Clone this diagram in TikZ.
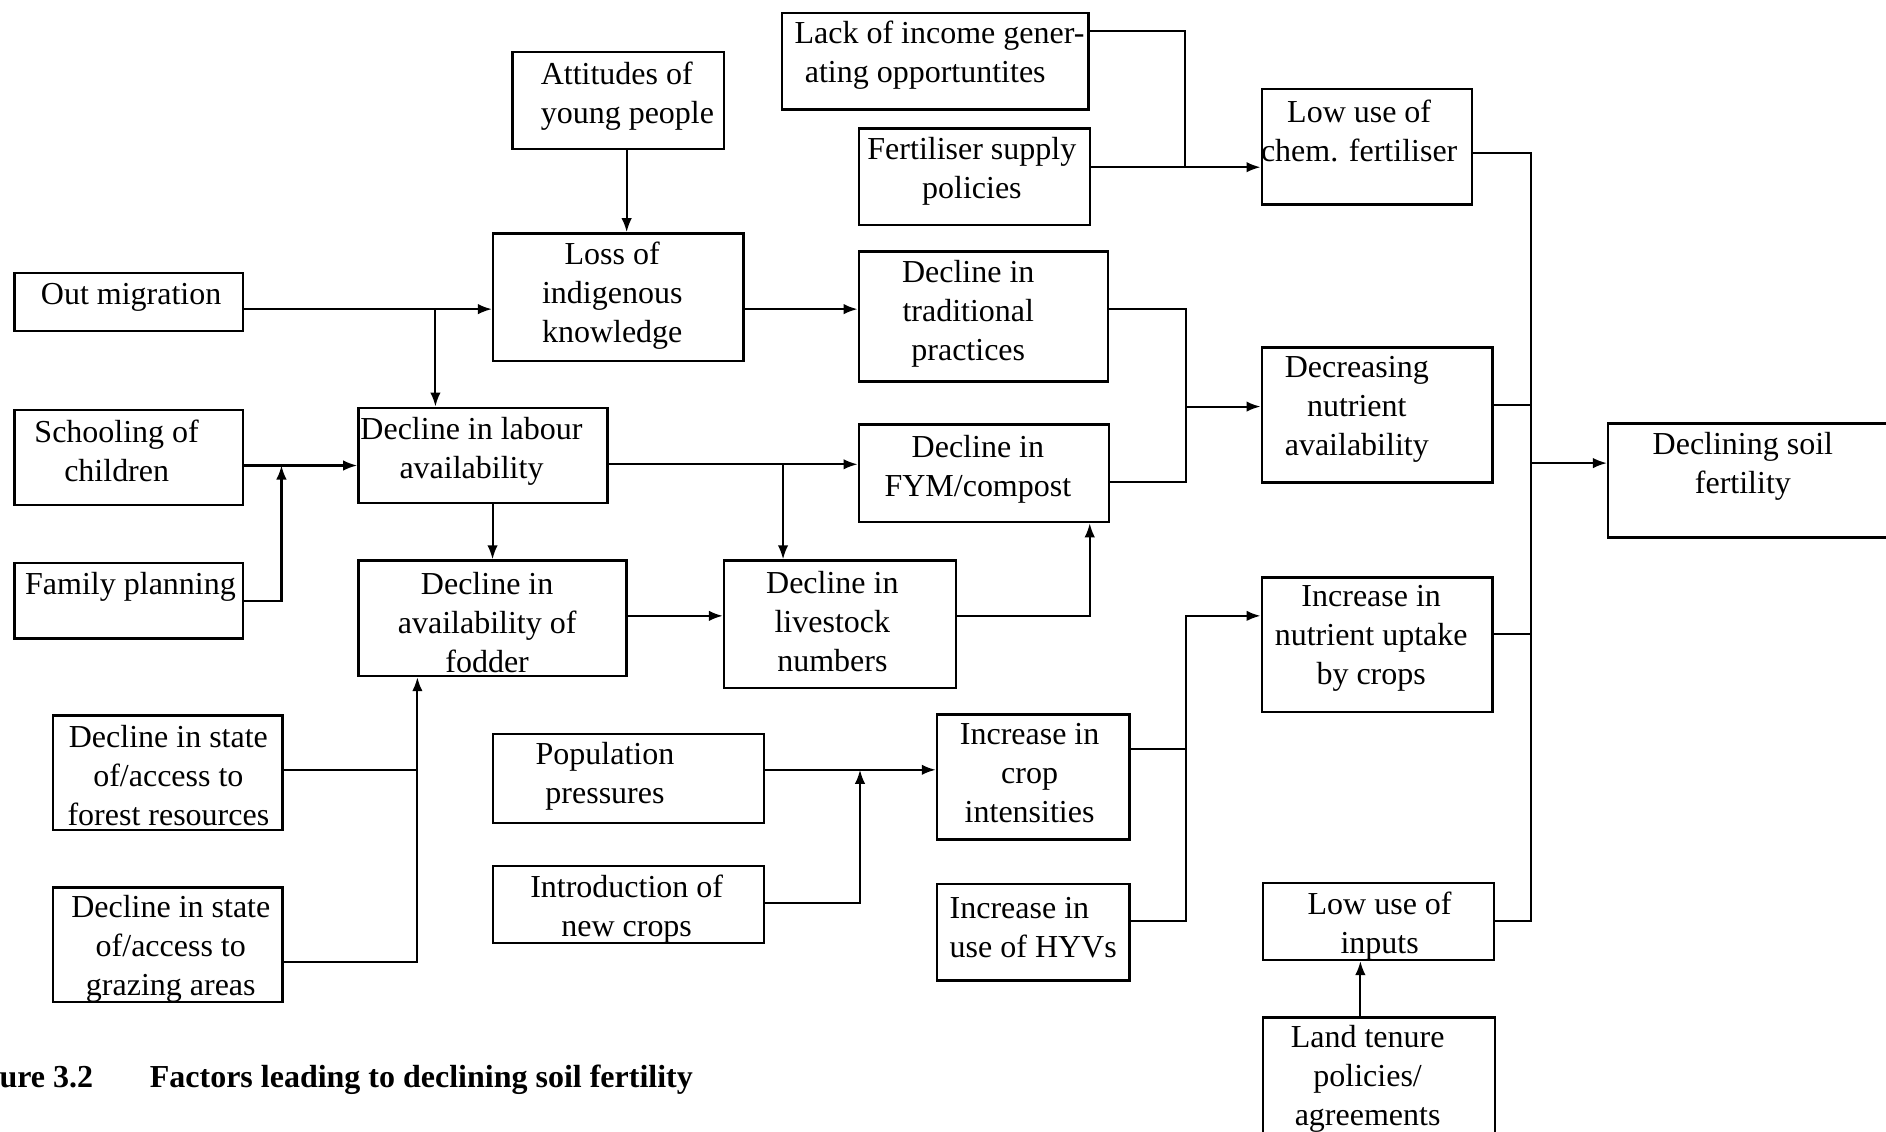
\documentclass[tikz,border=0pt]{standalone}
\usepackage{fontspec}
\setmainfont{Liberation Serif}
\usetikzlibrary{arrows.meta}

% one drawing unit
\newdimen\pxu \pxu=0.012028cm

% box from its corners: name, x1, y1, x2, y2
\newcommand\mkbox[5]{%
  \node[factor, minimum width={(#4-#2)*\pxu}, minimum height={(#5-#3)*\pxu}]
    (#1) at ({(#2+#4)/2},{(#3+#5)/2}) {};}

\tikzset{
  factor/.style={draw, line width=0.7pt, inner sep=0pt, rectangle},
  txt/.style={inner sep=0pt, yshift=-0.025cm, font=\fontsize{9.1}{11.1}\selectfont, align=center},
  lefttxt/.style={txt, align=left, anchor=west},
  caption/.style={inner sep=0pt, font=\fontsize{9.1}{11.1}\selectfont\bfseries},
  link/.style={line width=0.6pt},
  arr/.style={link, -{Latex[length=1.4mm,width=1.05mm]}}
}

\begin{document}
\begin{tikzpicture}[x=0.012028cm, y=-0.012028cm]
\useasboundingbox (0,0) rectangle (1568,941);
\clip (0,0) rectangle (1568,941);

% ---- boxes ----
\mkbox{att}{426}{43}{602}{124}
\mkbox{lack}{650}{11}{905}{91}
\mkbox{fert}{714}{107}{906}{187}
\mkbox{chem}{1049}{74}{1224}{170}
\mkbox{out}{12}{227}{202}{275}
\mkbox{loss}{410}{194}{618}{300}
\mkbox{trad}{714}{209}{921}{317}
\mkbox{decr}{1049}{289}{1241}{401}
\mkbox{school}{12}{341}{202}{420}
\mkbox{labour}{298}{339}{505}{418}
\mkbox{fym}{714}{353}{922}{434}
\mkbox{soil}{1337}{352}{1590}{447}
\mkbox{family}{12}{468}{202}{531}
\mkbox{fodder}{298}{466}{521}{562}
\mkbox{livestock}{602}{466}{795}{572}
\mkbox{uptake}{1049}{480}{1241}{592}
\mkbox{forest}{44}{595}{235}{690}
\mkbox{pop}{410}{610}{635}{684}
\mkbox{crop}{779}{594}{939}{698}
\mkbox{grazing}{44}{738}{235}{833}
\mkbox{intro}{410}{720}{635}{784}
\mkbox{hyv}{779}{735}{939}{815}
\mkbox{inputs}{1050}{734}{1242}{798}
\mkbox{land}{1050}{846}{1243}{960}

% ---- texts ----
\node[lefttxt] (att-t) at (449,77.5) {Attitudes of\\young people};
\node[lefttxt] (lack-t) at (660,44) {Lack of income gener-\\\hspace{0.7ex}ating opportuntites};
\node[txt] (fert-t) at (808,140.5) {Fertiliser supply\\policies};
\node[txt] (chem-t) at (1130,107) {Low use of\\chem. fertiliser};
\node[txt] (out-t) at (109,245) {Out migration};
\node[txt] (loss-t) at (509,243.5) {Loss of\\indigenous\\knowledge};
\node[txt] (trad-t) at (805,258.5) {Decline in\\traditional\\practices};
\node[txt] (decr-t) at (1128,338.5) {Decreasing\\nutrient\\availability};
\node[txt] (school-t) at (97,373) {Schooling of\\children};
\node[txt] (labour-t) at (392,373) {Decline in labour\\availability};
\node[txt] (fym-t) at (813,388) {Decline in\\FYM/compost};
\node[txt] (soil-t) at (1449,386) {Declining soil\\fertility};
\node[txt] (family-t) at (108.5,486) {Family planning};
\node[txt] (fodder-t) at (405,515.5) {Decline in\\availability of\\fodder};
\node[txt] (livestock-t) at (692,515) {Decline in\\livestock\\numbers};
\node[txt] (uptake-t) at (1140,529) {Increase in\\nutrient uptake\\by crops};
\node[txt] (forest-t) at (140,643) {Decline in state\\of/access to\\forest resources};
\node[txt] (pop-t) at (503,643) {Population\\pressures};
\node[txt] (crop-t) at (856,640.5) {Increase in\\crop\\intensities};
\node[txt] (grazing-t) at (142,786.5) {Decline in state\\of/access to\\grazing areas};
\node[txt] (intro-t) at (521,754) {Introduction of\\new crops};
\node[lefttxt] (hyv-t) at (789,769) {Increase in\\use of HYVs};
\node[txt] (inputs-t) at (1147,767.5) {Low use of\\inputs};
\node[txt] (land-t) at (1137,895) {Land tenure\\policies/\\agreements};

% ---- caption ----
\node[caption, anchor=base east] (cap-num) at (78,904) {ure 3.2};
\node[caption, anchor=base west] (cap-title) at (124,904) {Factors leading to declining soil fertility};

% ---- junctions and bends ----
\coordinate (jAt) at (521,0);
\coordinate (jOut) at (362,257);
\coordinate (jFam) at (234,387);
\coordinate (jLab) at (651,386);
\coordinate (jLiv) at (906,512);
\coordinate (jFor) at (347,640);
\coordinate (jGraz) at (347,800);
\coordinate (jT) at (986,257);
\coordinate (jF) at (986,401);
\coordinate (jD) at (986,338);
\coordinate (jL) at (985,26);
\coordinate (jFe) at (985,139);
\coordinate (jP) at (715,640);
\coordinate (jI) at (715,751);
\coordinate (jC) at (986,623);
\coordinate (jH) at (986,766);
\coordinate (jU) at (986,512);
\coordinate (bChem) at (1273,127);
\coordinate (bDec) at (1273,337);
\coordinate (bUp) at (1273,527);
\coordinate (bIn) at (1273,766);
\coordinate (bSoil) at (1273,385);
\coordinate (jLa) at (1131,0);

% ---- connectors ----
\draw[arr] (att.south -| jAt) -- (loss.north -| jAt);
\draw[arr] (out.east |- jOut) -- (loss.west |- jOut);
\draw[arr] (jOut) -- (labour.north -| jOut);
\draw[arr] (loss.east |- jOut) -- (trad.west |- jOut);
\draw[arr] (school.east |- jFam) -- (labour.west |- jFam);
\draw[arr] (family.east) -| (jFam);
\draw[arr] (labour.east |- jLab) -- (fym.west |- jLab);
\draw[arr] (jLab) -- (livestock.north -| jLab);
\draw[arr] (labour.south -| fodder.north) -- (fodder.north);
\draw[arr] (fodder.east |- jLiv) -- (livestock.west |- jLiv);
\draw[arr] (livestock.east |- jLiv) -- (jLiv) -- (fym.south -| jLiv);
\draw[link] (forest.east |- jFor) -- (jFor);
\draw[arr] (grazing.east |- jGraz) -- (jGraz) -- (fodder.south -| jGraz);
\draw[link] (trad.east |- jT) -- (jT) -- (jF) -- (fym.east |- jF);
\draw[arr] (jD) -- (decr.west |- jD);
\draw[link] (lack.east |- jL) -- (jL) -- (jFe);
\draw[arr] (fert.east |- jFe) -- (chem.west |- jFe);
\draw[arr] (pop.east |- jP) -- (crop.west |- jP);
\draw[arr] (intro.east |- jI) -- (jI) -- (jP);
\draw[link] (crop.east |- jC) -- (jC);
\draw[arr] (hyv.east |- jH) -- (jH) -- (jU) -- (uptake.west |- jU);
\draw[link] (chem.east |- bChem) -- (bChem) -- (bIn) -- (inputs.east |- bIn);
\draw[link] (decr.east |- bDec) -- (bDec);
\draw[link] (uptake.east |- bUp) -- (bUp);
\draw[arr] (bSoil) -- (soil.west |- bSoil);
\draw[arr] (land.north -| jLa) -- (inputs.south -| jLa);
\end{tikzpicture}
\end{document}
